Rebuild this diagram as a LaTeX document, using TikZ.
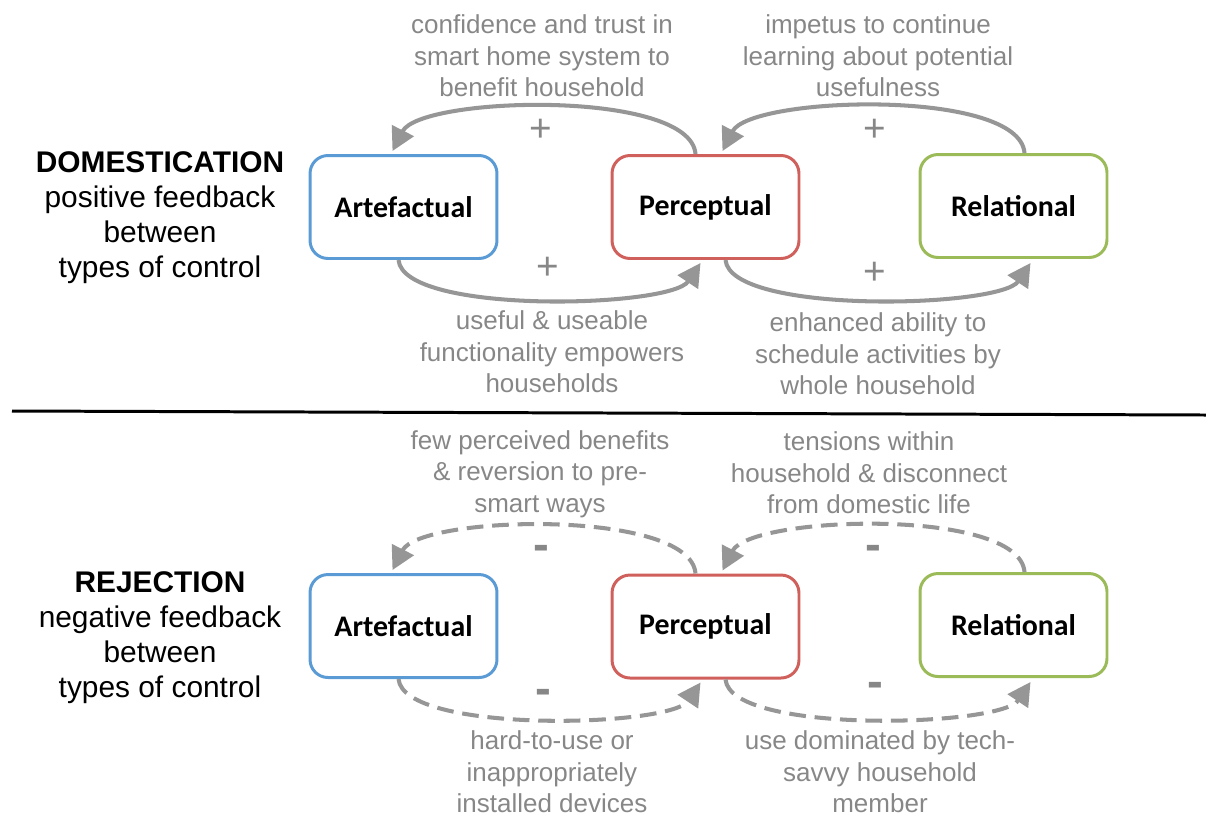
\documentclass[tikz,border=0pt]{standalone}
\usepackage{fontspec}
\setmainfont{Liberation Sans}
\newfontfamily\calfont{Carlito}
\usepackage{tikz}
\usetikzlibrary{shapes}
\usetikzlibrary{calc}
\usetikzlibrary{arrows.meta}

\definecolor{artblue}{RGB}{91,155,213}
\definecolor{percred}{RGB}{208,96,92}
\definecolor{relgreen}{RGB}{155,187,89}
\definecolor{loopgray}{RGB}{150,150,150}
\definecolor{notegray}{RGB}{135,135,135}

\begin{document}
\begin{tikzpicture}[x=0.02cm,y=-0.02cm,
	ctrlbox/.style={draw,fill=white,rounded corners=0.36cm,line width=1.7pt,minimum width=3.74cm,minimum height=2.06cm,font=\calfont\bfseries\fontsize{17}{20}\selectfont},
	fbloop/.style={loopgray,line width=2.3pt,-{Triangle[length=0.46cm,width=0.48cm]}},
	negfbloop/.style={fbloop,dash pattern=on 9.5pt off 5pt},
	fbnote/.style={text=notegray,align=center,font=\fontsize{14.8}{17.9}\selectfont},
	fbsign/.style={text=notegray,font=\fontsize{22}{24}\selectfont},
	negsign/.style={text=notegray,font=\bfseries\fontsize{27}{28}\selectfont},
	typelabel/.style={align=center,font=\fontsize{17}{19.9}\selectfont}]
			
			\useasboundingbox (0,0) rectangle (1206,816);
			
			% 左侧标题
			\node[typelabel] (domTitle) at (160,218) {\textbf{DOMESTICATION}\\positive feedback\\between\\types of control};
			\node[typelabel] (rejTitle) at (160,638) {\textbf{REJECTION}\\negative feedback\\between\\types of control};
			
			% 分隔线
			\coordinate (divL) at (12,411);
			\coordinate (divR) at (1206,415);
			\draw[line width=1.7pt] (divL) -- (divR);
			
			% 上半部分：三个控制类型
			\node[ctrlbox,draw=artblue] (artA) at (403.5,207) {Artefactual};
			\node[ctrlbox,draw=percred] (percA) at (705.5,207) {Perceptual};
			\node[ctrlbox,draw=relgreen] (relA) at (1013.5,206) {Relational};
			
			% 上半部分：正反馈环
			\draw[fbloop] ($(percA.north)+(-10,0)$) .. controls +(-5,-65) and +(28,-55) .. ($(artA.north)+(-11,-3)$);
			\draw[fbloop] ($(relA.north)+(11,0)$) .. controls +(-5,-65) and +(28,-55) .. ($(percA.north)+(17,-3)$);
			\draw[fbloop] ($(artA.south)+(-5,0)$) .. controls +(5,55) and +(-30,45) .. ($(percA.south)+(-5,3)$);
			\draw[fbloop] ($(percA.south)+(20,0)$) .. controls +(5,55) and +(-30,45) .. ($(relA.south)+(17,4)$);
			
			\node[fbsign] (signA1) at (541,130) {+};
			\node[fbsign] (signA2) at (875,130) {+};
			\node[fbsign] (signA3) at (548,268) {+};
			\node[fbsign] (signA4) at (875,273) {+};
			
			% 上半部分：说明文字
			\node[fbnote] (noteA1) at (542,56) {confidence and trust in\\smart home system to\\benefit household};
			\node[fbnote] (noteA2) at (878,56) {impetus to continue\\learning about potential\\usefulness};
			\node[fbnote] (noteA3) at (552,352) {useful \& useable\\functionality empowers\\households};
			\node[fbnote] (noteA4) at (878,354) {enhanced ability to\\schedule activities by\\whole household};
			
			% 下半部分：三个控制类型
			\node[ctrlbox,draw=artblue] (artR) at (403.5,626) {Artefactual};
			\node[ctrlbox,draw=percred] (percR) at (705.5,626.5) {Perceptual};
			\node[ctrlbox,draw=relgreen] (relR) at (1013.5,625) {Relational};
			
			% 下半部分：负反馈环
			\draw[negfbloop] ($(percR.north)+(-10,0)$) .. controls +(-5,-65) and +(28,-55) .. ($(artR.north)+(-11,-3)$);
			\draw[negfbloop] ($(relR.north)+(11,0)$) .. controls +(-5,-65) and +(28,-55) .. ($(percR.north)+(17,-3)$);
			\draw[negfbloop] ($(artR.south)+(-5,0)$) .. controls +(5,55) and +(-30,45) .. ($(percR.south)+(-5,3)$);
			\draw[negfbloop] ($(percR.south)+(20,0)$) .. controls +(5,55) and +(-30,45) .. ($(relR.south)+(17,4)$);
			
			\node[negsign] (signR1) at (541,553) {-};
			\node[negsign] (signR2) at (873,553) {-};
			\node[negsign] (signR3) at (543,697) {-};
			\node[negsign] (signR4) at (875,690) {-};
			
			% 下半部分：说明文字
			\node[fbnote] (noteR1) at (540,474) {few perceived benefits\\\& reversion to pre-\\smart ways};
			\node[fbnote] (noteR2) at (869,473) {tensions within\\household \& disconnect\\from domestic life};
			\node[fbnote] (noteR3) at (552,772) {hard-to-use or\\inappropriately\\installed devices};
			\node[fbnote] (noteR4) at (880,772) {use dominated by tech-\\savvy household\\member};
			
		\end{tikzpicture}
\end{document}
